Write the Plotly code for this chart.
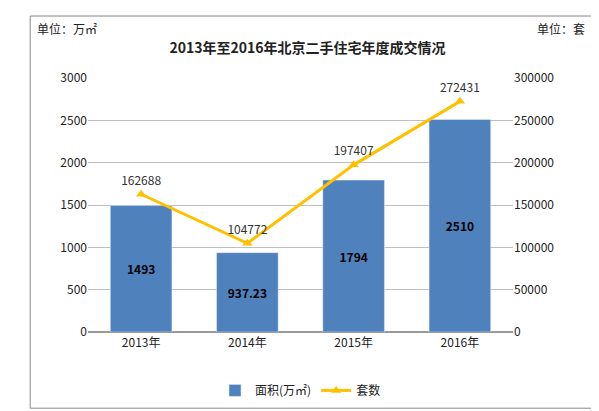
import plotly.graph_objects as go

years = ["2013年", "2014年", "2015年", "2016年"]
area = [1493, 937.23, 1794, 2510]
area_text = ["1493", "937.23", "1794", "2510"]
units = [162688, 104772, 197407, 272431]

FONT = "Noto Sans CJK SC"

fig = go.Figure()
fig.add_trace(go.Bar(
    x=years, y=area, name="面积(万㎡)", marker_color="#4F81BD", width=0.58,
    text=["<b>%s</b>" % t for t in area_text], textposition="inside",
    insidetextanchor="middle",
    textfont=dict(color="black", size=12, family=FONT),
))
fig.add_trace(go.Scatter(
    x=years, y=units, name="套数", yaxis="y2", mode="lines+markers+text",
    line=dict(color="#FFC000", width=3),
    marker=dict(symbol="triangle-up", size=9, color="#FFC000"),
    text=[str(v) for v in units], textposition="top center",
    textfont=dict(color="#333", size=12, family=FONT),
))

fig.update_layout(
    width=599, height=411,
    margin=dict(l=80, r=94, t=70, b=87),
    paper_bgcolor="white", plot_bgcolor="white",
    font=dict(family=FONT, size=12, color="#222"),
    title=dict(text="<b>2013年至2016年北京二手住宅年度成交情况</b>", x=0.5, y=0.915,
               xanchor="center", font=dict(size=14)),
    xaxis=dict(showline=True, linecolor="#999", ticks="", tickfont=dict(size=12)),
    yaxis=dict(range=[0, 3000], dtick=500, gridcolor="#BFBFBF", showline=False,
               zeroline=True, zerolinecolor="#999", ticklen=4),
    yaxis2=dict(range=[0, 300000], dtick=50000, overlaying="y", side="right",
                tickformat="d", showgrid=False, showline=False, zeroline=False),
    legend=dict(orientation="h", x=0.5, xanchor="center", y=-0.23, yanchor="middle",
                font=dict(size=12)),
    shapes=[dict(type="rect", xref="paper", yref="paper", x0=-0.136, x1=1.186,
                 y0=-0.30, y1=1.244, line=dict(color="#888", width=1))],
    annotations=[
        dict(text="单位：万㎡", xref="paper", yref="paper", x=-0.125, y=1.235,
             xanchor="left", yanchor="top", showarrow=False, font=dict(size=12)),
        dict(text="单位：套", xref="paper", yref="paper", x=1.175, y=1.235,
             xanchor="right", yanchor="top", showarrow=False, font=dict(size=12)),
    ],
)

fig.write_html("out.html")
